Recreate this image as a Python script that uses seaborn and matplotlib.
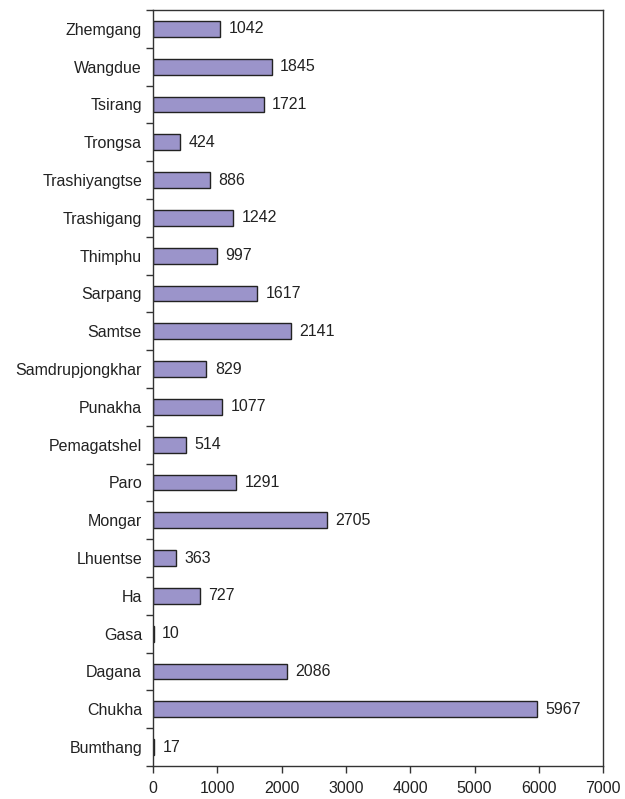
import matplotlib
matplotlib.use("Agg")
import matplotlib.pyplot as plt
import seaborn as sns
import pandas as pd
import numpy as np
from matplotlib.ticker import FixedLocator, NullFormatter

districts = ["Zhemgang", "Wangdue", "Tsirang", "Trongsa", "Trashiyangtse", "Trashigang",
             "Thimphu", "Sarpang", "Samtse", "Samdrupjongkhar", "Punakha", "Pemagatshel",
             "Paro", "Mongar", "Lhuentse", "Ha", "Gasa", "Dagana", "Chukha", "Bumthang"]
counts = [1042, 1845, 1721, 424, 886, 1242, 997, 1617, 2141, 829, 1077, 514,
          1291, 2705, 363, 727, 10, 2086, 5967, 17]
x_ticks = [0, 1000, 2000, 3000, 4000, 5000, 6000, 7000]

df = pd.DataFrame({"district": districts, "count": counts})

sns.set_style("white")
plt.rcParams["font.family"] = ["Liberation Sans", "DejaVu Sans"]

fig = plt.figure(figsize=(6.25, 7.99), dpi=100)
ax = fig.add_axes([0.245, 0.0413, 0.72, 0.9462])

sns.barplot(data=df, x="count", y="district", orient="h", color="#9b94ca",
            edgecolor="#222222", linewidth=1.0, width=0.42, saturation=1, ax=ax)

for i, v in enumerate(counts):
    ax.text(v + 130, i, str(v), va="center", ha="left", fontsize=11.5, color="#222222")

ax.set_xlim(0, 7000)
ax.set_ylim(len(districts) - 0.5, -0.5)
ax.set_xticks(x_ticks)
ax.set_xticklabels([str(t) for t in x_ticks], fontsize=11.5, color="#222222")
ax.set_xlabel("")
ax.set_ylabel("")
ax.tick_params(axis="y", which="major", length=0, labelsize=11.5, labelcolor="#222222", pad=8)
ax.yaxis.set_minor_locator(FixedLocator(np.arange(-0.5, len(districts), 1.0)))
ax.yaxis.set_minor_formatter(NullFormatter())
ax.tick_params(axis="y", which="minor", length=5, width=1, color="#333333", direction="out", left=True)
ax.tick_params(axis="x", which="major", length=5, width=1, color="#333333", direction="out",
               bottom=True, pad=6)

for side in ["left", "right", "top", "bottom"]:
    ax.spines[side].set_visible(True)
    ax.spines[side].set_color("#333333")
    ax.spines[side].set_linewidth(1.0)

fig.savefig("out.png", dpi=100)
